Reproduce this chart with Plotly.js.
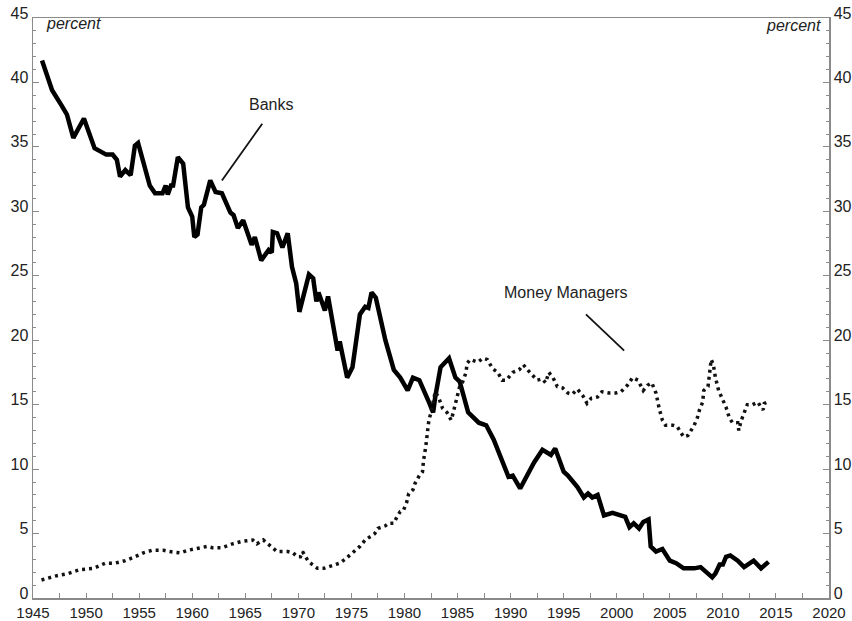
<!DOCTYPE html>
<html>
<head>
<meta charset="utf-8">
<script src="https://cdn.plot.ly/plotly-3.0.1.min.js"></script>
<style>html,body{margin:0;padding:0;background:#fff;}#chart{width:852px;height:621px;}</style>
</head>
<body>
<div id="chart"></div>
<script>
const bankYears = [1945.85,1946.8,1947.7,1948.2,1948.8,1949.8,1950.8,1951.9,1952.5,1952.9,1953.2,1953.7,1954.2,1954.6,1954.9,1955.3,1956.0,1956.5,1957.2,1957.5,1957.7,1958.0,1958.2,1958.65,1959.15,1959.6,1960.0,1960.2,1960.5,1960.85,1961.1,1961.7,1962.2,1962.8,1963.6,1963.9,1964.3,1964.8,1965.6,1965.9,1966.5,1967.2,1967.5,1967.6,1968.0,1968.5,1969.0,1969.4,1969.8,1970.1,1970.5,1971.0,1971.4,1971.7,1971.9,1972.3,1972.5,1972.8,1973.3,1973.7,1973.9,1974.6,1975.1,1975.8,1976.3,1976.6,1976.9,1977.3,1978.2,1979.0,1979.6,1980.3,1980.8,1981.4,1982.2,1982.7,1982.9,1983.4,1984.2,1984.8,1985.2,1985.9,1986.0,1987.0,1987.7,1988.4,1989.1,1989.8,1990.2,1990.9,1992.2,1993.0,1993.8,1994.2,1995.0,1995.4,1996.3,1996.9,1997.3,1997.7,1998.2,1998.8,1999.6,2000.6,2000.8,2001.2,2001.6,2002.1,2002.5,2003.0,2003.2,2003.7,2004.3,2005.0,2005.6,2006.3,2007.3,2007.9,2008.4,2009.0,2009.3,2009.7,2010.0,2010.3,2010.7,2011.4,2012.0,2012.9,2013.6,2014.3];
const bankValues = [41.7,39.4,38.2,37.5,35.7,37.2,34.9,34.4,34.4,34.0,32.7,33.2,32.8,35.1,35.3,34.0,32.0,31.4,31.4,32.0,31.3,32.0,32.0,34.2,33.7,30.3,29.6,28.0,28.2,30.3,30.5,32.4,31.5,31.4,29.9,29.7,28.7,29.3,27.4,28.0,26.2,27.0,26.8,28.4,28.3,27.2,28.3,25.7,24.4,22.2,23.5,25.1,24.8,23.0,23.7,22.9,22.3,23.4,20.8,19.2,19.9,17.1,17.9,22.0,22.6,22.5,23.7,23.3,20.0,17.7,17.1,16.1,17.1,16.9,15.4,14.4,15.6,17.9,18.6,17.1,16.8,14.8,14.4,13.6,13.4,12.3,10.9,9.4,9.5,8.5,10.5,11.5,11.1,11.6,9.8,9.5,8.6,7.8,8.1,7.8,8.0,6.4,6.6,6.4,6.3,5.5,5.8,5.4,5.9,6.1,4.0,3.6,3.8,2.9,2.7,2.3,2.3,2.4,2.0,1.6,1.9,2.6,2.6,3.2,3.3,2.9,2.4,2.9,2.3,2.8];

const mmYears = [1945.8,1947.1,1948.3,1949.4,1950.7,1951.8,1952.7,1953.7,1954.6,1955.4,1956.2,1957.3,1957.9,1958.9,1959.6,1960.6,1961.4,1961.9,1962.8,1963.8,1964.7,1965.7,1966.1,1966.7,1967.4,1968.0,1968.5,1969.0,1969.5,1969.9,1970.2,1970.4,1970.6,1970.9,1971.3,1971.8,1972.4,1972.8,1973.4,1973.9,1974.4,1974.8,1975.3,1975.8,1976.3,1976.8,1977.2,1977.5,1978.2,1978.5,1979.0,1979.3,1979.6,1979.9,1980.2,1980.4,1980.8,1981.0,1981.4,1981.7,1981.8,1982.0,1982.2,1982.3,1982.5,1982.7,1982.9,1983.2,1983.6,1984.0,1984.4,1984.6,1984.9,1985.2,1985.5,1985.8,1985.9,1986.2,1986.9,1987.4,1987.8,1988.3,1988.8,1989.2,1989.6,1990.2,1990.8,1991.2,1991.6,1992.1,1992.5,1993.0,1993.3,1993.6,1994.0,1994.4,1994.9,1995.4,1995.8,1996.3,1996.8,1997.2,1997.6,1998.2,1998.6,1999.3,1999.9,2000.4,2001.0,2001.5,2002.0,2002.5,2002.9,2003.3,2003.7,2004.0,2004.3,2004.6,2005.3,2005.7,2006.0,2006.3,2006.7,2007.0,2007.3,2007.6,2007.8,2008.1,2008.2,2008.6,2008.7,2008.9,2009.1,2009.3,2009.6,2010.0,2010.3,2010.6,2010.9,2011.4,2011.5,2011.7,2012.0,2012.3,2012.8,2013.3,2013.6,2013.8,2013.9,2014.2];
const mmValues = [1.4,1.7,1.9,2.2,2.3,2.7,2.7,2.9,3.2,3.5,3.7,3.7,3.6,3.5,3.7,3.9,4.0,3.9,3.9,4.2,4.4,4.5,4.2,4.5,4.0,3.6,3.6,3.6,3.5,3.2,3.2,3.6,3.3,2.9,2.6,2.3,2.3,2.4,2.6,2.7,3.0,3.3,3.6,4.0,4.5,4.8,5.0,5.4,5.6,5.8,5.8,6.3,6.7,6.8,7.4,8.1,8.4,8.9,9.5,9.8,10.7,11.7,12.8,13.8,14.4,15.4,16.0,15.6,14.7,14.4,13.8,14.4,15.4,16.4,16.8,17.5,18.2,18.5,18.3,18.6,18.5,17.8,17.5,16.9,16.9,17.5,17.7,18.1,17.7,17.3,16.9,17.0,16.7,17.5,17.1,16.4,16.3,15.9,15.8,16.2,15.7,15.1,15.5,15.6,16.0,15.9,15.9,16.0,16.5,17.1,16.9,16.1,16.5,16.7,15.9,14.7,13.8,13.4,13.4,13.3,12.9,12.5,12.6,13.0,13.4,14.0,14.6,15.2,16.1,16.4,17.1,18.5,18.1,17.1,16.1,15.4,14.8,14.0,13.6,13.6,13.0,13.7,14.4,15.0,15.0,15.2,14.8,14.6,15.1,15.2];

const seriesNames = ["Banks", "Money Managers"];
const unitLabel = "percent";

const FONT = "Liberation Sans, Arial, Helvetica, sans-serif";
const AX = "#8a8a8a";

const traces = [
  {x: mmYears, y: mmValues, type: "scatter", mode: "lines", name: seriesNames[1], yaxis: "y2",
   line: {color: "#111", width: 3.5, dash: "3px,4px"}, hoverinfo: "skip"},
  {x: bankYears, y: bankValues, type: "scatter", mode: "lines", name: seriesNames[0],
   line: {color: "#000", width: 4.5, shape: "linear"}, hoverinfo: "skip"}
];

const yCommon = {
  range: [0, 45], dtick: 5, tick0: 0, ticks: "inside", ticklen: 6, tickwidth: 1, tickcolor: AX,
  showline: true, linecolor: AX, linewidth: 1.5, showgrid: false, zeroline: false,
  ticklabelshift: -5,
  tickfont: {family: FONT, size: 16, color: "#222"},
  minor: {dtick: 1, tick0: 0, ticks: "inside", ticklen: 3, tickcolor: AX, showgrid: false}
};

const layout = {
  width: 852, height: 621, autosize: false,
  margin: {l: 33, r: 23, t: 18, b: 23, pad: 0},
  paper_bgcolor: "#fff", plot_bgcolor: "#fff",
  showlegend: false,
  font: {family: FONT, color: "#222"},
  xaxis: {
    range: [1945, 2020], dtick: 5, tick0: 1945, ticks: "inside", ticklen: 5, tickwidth: 1, tickcolor: AX,
    showline: true, linecolor: AX, linewidth: 1.5, mirror: true, showgrid: false, zeroline: false,
    tickfont: {family: FONT, size: 15, color: "#222"},
    minor: {dtick: 2.5, tick0: 1945, ticks: "inside", ticklen: 5, tickcolor: AX, showgrid: false}
  },
  yaxis: Object.assign({}, yCommon, {side: "left"}),
  yaxis2: Object.assign({}, yCommon, {side: "right", overlaying: "y", matches: "y"}),
  annotations: [
    {xref: "paper", yref: "paper", x: 0.014, y: 0.99, xanchor: "left", yanchor: "middle",
     text: "<i>" + unitLabel + "</i>", showarrow: false, font: {family: FONT, size: 16, color: "#222"}},
    {xref: "paper", yref: "paper", x: 0.9925, y: 0.987, xanchor: "right", yanchor: "middle",
     text: "<i>" + unitLabel + "</i>", showarrow: false, font: {family: FONT, size: 16, color: "#222"}},
    {x: 1967.4, y: 38.3, xref: "x", yref: "y", text: seriesNames[0], showarrow: false,
     font: {family: FONT, size: 16, color: "#222"}},
    {x: 1995.2, y: 23.7, xref: "x", yref: "y", text: seriesNames[1], showarrow: false,
     font: {family: FONT, size: 16, color: "#222"}}
  ],
  shapes: [
    {type: "line", xref: "x", yref: "y", x0: 1966.6, y0: 36.8, x1: 1962.8, y1: 32.4, line: {color: "#111", width: 1.8}},
    {type: "line", xref: "x", yref: "y", x0: 1997.1, y0: 22.0, x1: 2000.7, y1: 19.2, line: {color: "#111", width: 1.8}}
  ]
};

Plotly.newPlot("chart", traces, layout, {staticPlot: true, displayModeBar: false});
</script>
</body>
</html>
